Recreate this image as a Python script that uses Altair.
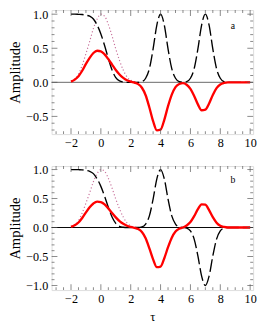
import altair as alt
import pandas as pd

tau = [-2.0, -1.75, -1.5, -1.25, -1.0, -0.75, -0.5, -0.25, 0.0, 0.25, 0.5, 0.75,
       1.0, 1.25, 1.5, 1.75, 2.0, 2.25, 2.5, 2.75, 3.0, 3.25, 3.5, 3.75,
       4.0, 4.25, 4.5, 4.75, 5.0, 5.25, 5.5, 5.75, 6.0, 6.25, 6.5, 6.75,
       7.0, 7.25, 7.5, 7.75, 8.0, 8.25, 8.5, 8.75, 9.0, 9.25, 9.5, 9.75, 10.0]

dashed_a = [1.0, 1.0, 0.998, 0.995, 0.985, 0.97, 0.93, 0.84, 0.71, 0.54, 0.35, 0.18,
            0.07, 0.02, 0.005, 0.0, 0.0, 0.0, 0.0, 0.01, 0.06, 0.2, 0.49, 0.84,
            1.0, 0.84, 0.49, 0.2, 0.06, 0.01, 0.0, 0.01, 0.06, 0.2, 0.49, 0.84,
            1.0, 0.84, 0.49, 0.2, 0.06, 0.01, 0.0, 0.0, 0.0, 0.0, 0.0, 0.0, 0.0]

dashed_b = [1.0, 1.0, 0.998, 0.995, 0.985, 0.97, 0.93, 0.84, 0.71, 0.54, 0.35, 0.18,
            0.07, 0.02, 0.005, 0.0, 0.0, 0.0, 0.0, 0.01, 0.06, 0.2, 0.49, 0.84,
            1.0, 0.84, 0.49, 0.2, 0.06, 0.01, 0.0, -0.01, -0.06, -0.2, -0.49, -0.84,
            -1.0, -0.84, -0.49, -0.2, -0.06, -0.01, 0.0, 0.0, 0.0, 0.0, 0.0, 0.0, 0.0]

red_a = [0.01, 0.04, 0.09, 0.17, 0.27, 0.36, 0.43, 0.463, 0.455, 0.41, 0.34, 0.26,
         0.18, 0.115, 0.065, 0.03, 0.01, -0.005, -0.027, -0.08, -0.19, -0.37, -0.57, -0.705,
         -0.695, -0.55, -0.35, -0.18, -0.07, -0.025, -0.012, -0.036, -0.096, -0.2, -0.324, -0.41,
         -0.40, -0.31, -0.185, -0.086, -0.031, -0.009, 0.0, 0.0, 0.0, 0.0, 0.0, 0.0, 0.0]

red_b = [0.01, 0.04, 0.087, 0.165, 0.26, 0.35, 0.415, 0.448, 0.44, 0.40, 0.33, 0.25,
         0.175, 0.11, 0.063, 0.03, 0.01, -0.005, -0.026, -0.077, -0.185, -0.36, -0.55, -0.685,
         -0.675, -0.53, -0.34, -0.175, -0.068, -0.02, 0.0, 0.035, 0.094, 0.195, 0.316, 0.40,
         0.393, 0.30, 0.18, 0.084, 0.03, 0.009, 0.0, 0.0, 0.0, 0.0, 0.0, 0.0, 0.0]

tau_dot = [-2.0, -1.75, -1.5, -1.25, -1.0, -0.75, -0.5, -0.25, 0.0, 0.25, 0.5, 0.75,
           1.0, 1.25, 1.5, 1.75, 2.0, 2.25, 2.5]
dotted = [0.02, 0.05, 0.12, 0.25, 0.42, 0.60, 0.79, 0.93, 1.0, 0.97, 0.85, 0.68,
          0.49, 0.32, 0.18, 0.08, 0.03, 0.01, 0.0]

x_major = [-2, 0, 2, 4, 6, 8, 10]
x_minor = [-3.0, -2.5, -1.5, -1.0, -0.5, 0.5, 1.0, 1.5, 2.5, 3.0, 3.5, 4.5, 5.0, 5.5,
           6.5, 7.0, 7.5, 8.5, 9.0, 9.5]
ya_major = [-0.5, 0.0, 0.5, 1.0]
yb_major = [-1.0, -0.5, 0.0, 0.5, 1.0]
ya_minor = [-0.7, -0.6, -0.4, -0.3, -0.2, -0.1, 0.1, 0.2, 0.3, 0.4, 0.6, 0.7, 0.8, 0.9]
yb_minor = [-0.9, -0.8, -0.7, -0.6, -0.4, -0.3, -0.2, -0.1, 0.1, 0.2, 0.3, 0.4,
            0.6, 0.7, 0.8, 0.9]

W, H = 208, 128
SERIF = "Liberation Serif"
XDOM = [-3.3, 10.2]


def panel(dashed, red, ydom, ymaj, ymin, label, zero_color, show_xtitle, label_y):
    xs = alt.Scale(domain=XDOM, nice=False, zero=False)
    ys = alt.Scale(domain=ydom, nice=False, zero=False)
    xaxis = alt.Axis(values=x_major, format="d", ticks=False, domain=False, grid=False,
                     labelOverlap=False, labelFlush=False,
                     labelFont=SERIF, labelFontSize=12.5, labelColor="black", labelPadding=3,
                     title="τ" if show_xtitle else "", titleFont=SERIF, titleFontSize=13,
                     titleFontWeight="normal", titleColor="black", titlePadding=6)
    yaxis = alt.Axis(values=ymaj, format=".1f", ticks=False, domain=False, grid=False,
                     labelOverlap=False, labelFlush=False,
                     labelFont=SERIF, labelFontSize=12.5, labelColor="black", labelPadding=4,
                     title="Amplitude", titleFont=SERIF, titleFontSize=15,
                     titleFontWeight="normal", titleColor="black", titlePadding=3)

    def X(f):
        return alt.X(f, scale=xs, axis=xaxis)

    def Y(f):
        return alt.Y(f, scale=ys, axis=yaxis)

    d_dash = pd.DataFrame({"tau": tau, "v": dashed})
    d_red = pd.DataFrame({"tau": tau, "v": red})
    d_dot = pd.DataFrame({"tau": tau_dot, "v": dotted})

    zero = alt.Chart(pd.DataFrame({"z": [0.0]})).mark_rule(color=zero_color, strokeWidth=1).encode(
        y=Y("z:Q"))
    dot = alt.Chart(d_dot).mark_line(color="#c8709a", strokeWidth=1.2, strokeDash=[1.2, 2.3],
                                     interpolate="monotone").encode(x=X("tau:Q"), y=Y("v:Q"))
    dash = alt.Chart(d_dash).mark_line(color="black", strokeWidth=1.4, strokeDash=[13, 4],
                                       interpolate="monotone").encode(x=X("tau:Q"), y=Y("v:Q"))
    redl = alt.Chart(d_red).mark_line(color="#ff0000", strokeWidth=2.4,
                                      interpolate="monotone").encode(x=X("tau:Q"), y=Y("v:Q"))
    txt = alt.Chart(pd.DataFrame({"tau": [8.85], "v": [label_y], "t": [label]})).mark_text(
        font=SERIF, fontSize=10, color="black").encode(x=X("tau:Q"), y=Y("v:Q"), text="t:N")

    tick_col = "#555555"
    xt_maj = pd.DataFrame({"tau": x_major})
    xt_min = pd.DataFrame({"tau": x_minor})
    yt_maj = pd.DataFrame({"v": ymaj})
    yt_min = pd.DataFrame({"v": ymin})
    ticks = []
    for dfx, size in ((xt_maj, 6), (xt_min, 3)):
        for pos in (H - size / 2, size / 2):
            ticks.append(alt.Chart(dfx).mark_tick(color=tick_col, size=size, thickness=1,
                                                  orient="vertical").encode(
                x=X("tau:Q"), y=alt.value(pos)))
    for dfy, size in ((yt_maj, 6), (yt_min, 3)):
        for pos in (size / 2, W - size / 2):
            ticks.append(alt.Chart(dfy).mark_tick(color=tick_col, size=size, thickness=1,
                                                  orient="horizontal").encode(
                y=Y("v:Q"), x=alt.value(pos)))

    return alt.layer(zero, dot, dash, redl, txt, *ticks).properties(width=W, height=H)


top = panel(dashed_a, red_a, [-0.76, 1.06], ya_major, ya_minor, "a", "#666666", False, 0.83)
bot = panel(dashed_b, red_b, [-1.08, 1.06], yb_major, yb_minor, "b", "black", True, 0.81)

chart = alt.vconcat(top, bot, spacing=33, bounds="flush").configure_view(
    stroke="#888888", strokeWidth=1).configure_axis(labelOverlap=False).configure(
    padding={"left": -1, "top": -6, "right": 0, "bottom": 0}, background="white")

chart.save("out.html", embed_options={"renderer": "svg", "actions": False})
